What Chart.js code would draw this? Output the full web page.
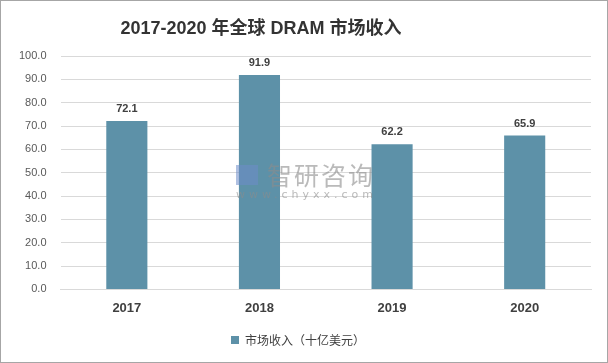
<!DOCTYPE html>
<html>
<head>
<meta charset="utf-8">
<script src="https://cdn.jsdelivr.net/npm/chart.js@4/dist/chart.umd.min.js"></script>
<style>
  html, body { margin: 0; padding: 0; background: #fff; }
  #wrap { width: 606px; height: 361px; border: 1px solid #a6a6a6; position: relative; }
</style>
</head>
<body>
<div id="wrap"><canvas id="c"></canvas></div>
<script>
const years = ['2017', '2018', '2019', '2020'];
const revenue = [72.1, 91.9, 62.2, 65.9];
const seriesName = '市场收入（十亿美元）';
const titleText = '2017-2020 年全球 DRAM 市场收入';

const fontFamily = '"Liberation Sans", "Noto Sans CJK SC", sans-serif';

// title sits a bit left of centre in the original, so draw it ourselves
const titlePlugin = {
  id: 'titlePlugin',
  afterDraw(chart) {
    const ctx = chart.ctx;
    ctx.save();
    ctx.font = 'bold 18px ' + fontFamily;
    ctx.fillStyle = '#333333';
    ctx.textAlign = 'center';
    ctx.textBaseline = 'middle';
    ctx.fillText(titleText, 260, 28);
    ctx.restore();
  }
};

// value labels above each bar
const barLabels = {
  id: 'barLabels',
  afterDatasetsDraw(chart) {
    const ctx = chart.ctx;
    const meta = chart.getDatasetMeta(0);
    ctx.save();
    ctx.font = 'bold 11px ' + fontFamily;
    ctx.fillStyle = '#404040';
    ctx.textAlign = 'center';
    ctx.textBaseline = 'alphabetic';
    meta.data.forEach((bar, i) => {
      ctx.fillText(revenue[i].toFixed(1), bar.x, bar.y - 9);
    });
    ctx.restore();
  }
};

// faint watermark
const watermark = {
  id: 'watermark',
  afterDatasetsDraw(chart) {
    const ctx = chart.ctx;
    ctx.save();
    ctx.fillStyle = 'rgba(140,140,140,0.6)';
    ctx.textAlign = 'left';
    ctx.textBaseline = 'middle';
    ctx.font = '25px "Noto Sans CJK SC", sans-serif';
    ctx.letterSpacing = '2px';
    ctx.fillText('智研咨询', 266, 174);
    ctx.font = '11px "DejaVu Sans", sans-serif';
    ctx.letterSpacing = '4px';
    ctx.fillText('www.chyxx.com', 235, 194);
    ctx.fillStyle = 'rgba(110,140,200,0.55)';
    ctx.fillRect(235, 164, 22, 20);
    ctx.restore();
  }
};

new Chart(document.getElementById('c'), {
  type: 'bar',
  data: {
    labels: years,
    datasets: [{
      label: seriesName,
      data: revenue,
      backgroundColor: '#5d91a8',
      barPercentage: 0.62,
      categoryPercentage: 0.5
    }]
  },
  options: {
    responsive: true,
    maintainAspectRatio: false,
    animation: false,
    layout: { padding: { left: 4, right: 16, top: 55, bottom: 6 } },
    plugins: {
      title: { display: false },
      legend: {
        position: 'bottom',
        labels: {
          boxWidth: 8,
          boxHeight: 8,
          color: '#404040',
          font: { family: '"Noto Sans CJK SC", sans-serif', size: 12 },
          padding: 10
        }
      },
      tooltip: { enabled: false }
    },
    scales: {
      x: {
        grid: { display: false },
        border: { color: '#d9d9d9' },
        afterFit: scale => { scale.height += 5; },
        ticks: {
          color: '#404040',
          font: { family: fontFamily, size: 13, weight: 'bold' },
          padding: 3
        }
      },
      y: {
        min: 0,
        max: 100,
        border: { display: false },
        grid: { color: '#d9d9d9', drawTicks: false },
        ticks: {
          stepSize: 10,
          color: '#595959',
          padding: 14,
          font: { family: fontFamily, size: 11 },
          callback: v => v.toFixed(1)
        }
      }
    }
  },
  plugins: [barLabels, watermark, titlePlugin]
});
</script>
</body>
</html>
